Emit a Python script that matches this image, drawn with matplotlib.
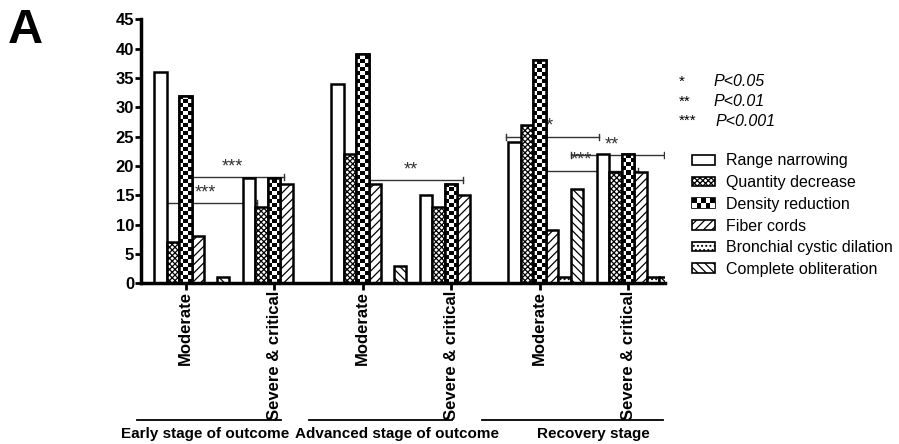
import numpy as np
import matplotlib
matplotlib.use("Agg")
import matplotlib.pyplot as plt
from matplotlib.patches import Patch, Rectangle
from matplotlib.legend_handler import HandlerBase

plt.rcParams["font.family"] = ["Liberation Sans", "DejaVu Sans"]
plt.rcParams["hatch.linewidth"] = 0.9

# data
groups = ["Moderate", "Severe & critical", "Moderate", "Severe & critical",
          "Moderate", "Severe & critical"]
stages = ["Early stage of outcome", "Advanced stage of outcome", "Recovery stage"]
series = ["Range narrowing", "Quantity decrease", "Density reduction",
          "Fiber cords", "Bronchial cystic dilation", "Complete obliteration"]
range_narrowing = [36, 18, 34, 15, 24, 22]
quantity_decrease = [7, 13, 22, 13, 27, 19]
density_reduction = [32, 18, 39, 17, 38, 22]
fiber_cords = [8, 17, 17, 15, 9, 19]
bronchial_dilation = [0, 0, 0, 0, 1, 1]
complete_obliteration = [1, 0, 3, 0, 16, 1]

# significance brackets: (x start, x end, y, label)
brackets = [(-0.243, 0.808, 13.7, "***"), (0.059, 1.113, 18.1, "***"),
            (2.073, 3.136, 17.6, "**"), (3.618, 4.672, 25.0, "**"),
            (3.966, 5.110, 19.2, "***"), (4.353, 5.407, 21.9, "**")]
sig_keys = ["*", "**", "***"]
sig_vals = ["P<0.05", "P<0.01", "P<0.001"]

values = [range_narrowing, quantity_decrease, density_reduction,
          fiber_cords, bronchial_dilation, complete_obliteration]
hatches = [None, "xxxxxx", None, "////", "....", "\\\\\\\\"]

fig = plt.figure(figsize=(8.99, 4.44), dpi=100)
ax = fig.add_axes([141 / 899, (444 - 283.3) / 444, (665 - 141) / 899, (283.3 - 19.3) / 444])

x = np.arange(len(groups))
w = 0.1412
for k, (vals, h) in enumerate(zip(values, hatches)):
    bars = ax.bar(x + (k - 2.5) * w, vals, w, align="edge", color="white",
                  edgecolor="black", linewidth=1.8, hatch=h, zorder=2)
    if k == 2:
        # checkerboard fill for density reduction
        for b in bars:
            x0, bw, bh = b.get_x(), b.get_width(), b.get_height()
            cell = 0.68
            nr = int(np.ceil(bh / cell))
            board = (np.add.outer(np.arange(nr), np.arange(3)) % 2).astype(float)
            im = ax.imshow(board, extent=(x0, x0 + bw, 0, nr * cell), origin="lower",
                           cmap="gray", aspect="auto", interpolation="nearest", zorder=2.1)
            im.set_clip_path(b)
            ax.add_patch(Rectangle((x0, 0), bw, bh, fill=False, edgecolor="black",
                                   linewidth=1.8, zorder=2.2))

for x0, x1, y, lab in brackets:
    ax.plot([x0, x1], [y, y], color="#333333", lw=1.0, zorder=1)
    ax.plot([x0, x0], [y - 0.5, y + 0.5], color="#333333", lw=1.0, zorder=1)
    ax.plot([x1, x1], [y - 0.5, y + 0.5], color="#333333", lw=1.0, zorder=1)
    ax.text((x0 + x1) / 2 - 0.06, y + 0.3, lab, ha="center", va="bottom",
            fontsize=13, color="#333333", zorder=1)

ax.set_xlim(-0.503, 5.418)
ax.set_ylim(0, 45)
ax.set_yticks(range(0, 50, 5))
ax.set_xticks(x)
ax.set_xticklabels(groups, rotation=90, fontsize=12, fontweight="bold")
for t in ax.get_yticklabels():
    t.set_fontweight("bold")
ax.tick_params(axis="y", labelsize=12, width=2, length=4, pad=1)
ax.tick_params(axis="x", width=2, length=5, pad=0.5)
for s in ["top", "right"]:
    ax.spines[s].set_visible(False)
for s in ["left", "bottom"]:
    ax.spines[s].set_linewidth(2.5)

# stage lines and labels below the axis
stage_lines = [(137, 281), (309, 452), (482, 663)]
stage_centers = [205, 397, 593]
for (a, b), c, name in zip(stage_lines, stage_centers, stages):
    fig.add_artist(plt.Line2D([a / 899, b / 899], [1 - 419.5 / 444] * 2,
                              color="black", lw=1.3))
    fig.text(c / 899, 1 - 434 / 444, name, ha="center", va="center",
             fontsize=11, fontweight="bold")

fig.text(8 / 899, 1 - 8 / 444, "A", ha="left", va="top", fontsize=35, fontweight="bold")

for i, (k, v) in enumerate(zip(sig_keys, sig_vals)):
    yy = 1 - (82 + 19.5 * i) / 444
    fig.text(679 / 899, yy, k, ha="left", va="center", fontsize=11)
    fig.text((713 + 3 * (i == 2)) / 899, yy, v, ha="left", va="center",
             fontsize=11.5, style="italic")


class CheckerHandler(HandlerBase):
    def create_artists(self, legend, orig_handle, xdescent, ydescent,
                       width, height, fontsize, trans):
        arts = [Rectangle((-xdescent, -ydescent), width, height, facecolor="black",
                          edgecolor="black", lw=1.2, transform=trans)]
        nc, nr = 5, 2
        cw, ch = width / nc, height / nr
        for r in range(nr):
            for c in range(nc):
                if (r + c) % 2 == 0:
                    arts.append(Rectangle((-xdescent + c * cw, -ydescent + r * ch), cw, ch,
                                          facecolor="white", lw=0, transform=trans))
        return arts


handles = []
for k, (name, h) in enumerate(zip(series, hatches)):
    handles.append(Patch(facecolor="white", edgecolor="black", hatch=h, lw=1.2, label=name))
leg = fig.legend(handles=handles, loc="upper left",
                 bbox_to_anchor=(686 / 899, 1 - 147 / 444), frameon=False,
                 fontsize=11.5, handlelength=1.4, handleheight=0.55,
                 labelspacing=0.42, handletextpad=0.7, borderaxespad=0,
                 handler_map={handles[2]: CheckerHandler()})

fig.savefig("out.png", dpi=100)
